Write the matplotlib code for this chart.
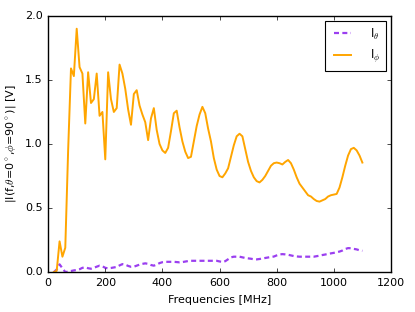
import matplotlib
matplotlib.use("Agg")
import matplotlib.pyplot as plt
import numpy as np

plt.style.use("classic")

freqs = list(range(20, 1101, 10))

i_phi = [0.00, 0.01, 0.24, 0.12, 0.19, 0.95, 1.59, 1.53, 1.90, 1.60,
         1.55, 1.16, 1.56, 1.32, 1.35, 1.55, 1.22, 1.25, 0.88, 1.56,
         1.35, 1.25, 1.28, 1.62, 1.55, 1.43, 1.27, 1.15, 1.39, 1.42,
         1.30, 1.23, 1.17, 1.03, 1.20, 1.28, 1.11, 1.00, 0.95, 0.93,
         0.97, 1.10, 1.24, 1.26, 1.13, 1.02, 0.94, 0.89, 0.90, 1.02,
         1.14, 1.23, 1.29, 1.24, 1.12, 1.02, 0.89, 0.80, 0.75, 0.74,
         0.77, 0.81, 0.90, 0.99, 1.06, 1.08, 1.06, 0.96, 0.86, 0.79,
         0.74, 0.71, 0.70, 0.72, 0.75, 0.79, 0.83, 0.85, 0.855, 0.85,
         0.84, 0.86, 0.875, 0.85, 0.80, 0.74, 0.69, 0.66, 0.63, 0.60,
         0.59, 0.57, 0.555, 0.55, 0.56, 0.57, 0.59, 0.60, 0.605, 0.61,
         0.66, 0.74, 0.83, 0.91, 0.96, 0.97, 0.95, 0.91, 0.855]

i_theta = [0.00, 0.02, 0.06, 0.03, 0.00, 0.003, 0.008, 0.013, 0.016, 0.022,
           0.033, 0.037, 0.030, 0.026, 0.033, 0.042, 0.050, 0.045, 0.033, 0.029,
           0.032, 0.036, 0.040, 0.052, 0.062, 0.058, 0.048, 0.041, 0.042, 0.050,
           0.058, 0.064, 0.068, 0.064, 0.055, 0.050, 0.058, 0.070, 0.077, 0.080,
           0.080, 0.080, 0.080, 0.078, 0.076, 0.078, 0.082, 0.086, 0.088, 0.088,
           0.088, 0.088, 0.088, 0.088, 0.088, 0.088, 0.088, 0.088, 0.083, 0.078,
           0.085, 0.100, 0.115, 0.120, 0.120, 0.120, 0.115, 0.110, 0.107, 0.104,
           0.100, 0.099, 0.102, 0.106, 0.110, 0.114, 0.118, 0.121, 0.130, 0.138,
           0.140, 0.138, 0.135, 0.130, 0.125, 0.122, 0.120, 0.120, 0.120, 0.120,
           0.120, 0.120, 0.124, 0.128, 0.133, 0.137, 0.142, 0.146, 0.150, 0.155,
           0.160, 0.168, 0.180, 0.187, 0.186, 0.181, 0.177, 0.170, 0.166]

label_theta = r'I$_\theta$'
label_phi = r'I$_\phi$'

fig = plt.figure(figsize=(4.15, 3.12), dpi=100, facecolor='white')
ax = fig.add_axes([0.116, 0.128, 0.826, 0.821])

ax.plot(freqs, i_theta, color='#9b3ff0', lw=1.6, dashes=(3.6, 2.4), label=label_theta)
ax.plot(freqs, i_phi, color='#ffa500', lw=1.4, label=label_phi)

ax.set_xlim(0, 1200)
ax.set_ylim(0, 2.0)
ax.set_xticks([0, 200, 400, 600, 800, 1000, 1200])
ax.set_yticks([0.0, 0.5, 1.0, 1.5, 2.0])
ax.tick_params(labelsize=8, length=3, direction='in', top=True, right=True)
ax.set_xlabel('Frequencies [MHz]', fontsize=8)
ax.set_ylabel(r'|I(f,$\theta$=0$^\circ$,$\phi$=90$^\circ$)| [V]', fontsize=8)

leg = ax.legend(loc='upper right', fontsize=8.5, handlelength=2.0, borderpad=0.5,
                labelspacing=0.5, handletextpad=1.3, fancybox=False,
                borderaxespad=0.4)
leg.get_frame().set_linewidth(0.8)

fig.savefig('out.png', dpi=100, facecolor='white')
